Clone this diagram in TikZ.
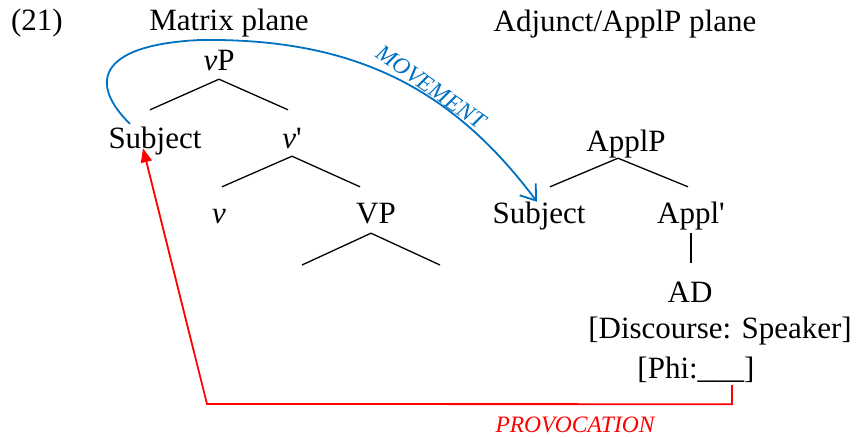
\documentclass[tikz,border=0pt]{standalone}
\usepackage{fontspec}
\setmainfont{Liberation Serif}
\usetikzlibrary{arrows.meta}
\definecolor{mvblue}{RGB}{0,112,192}
\tikzset{
  lbl/.style={inner sep=0pt, anchor=base, font=\fontsize{31}{36}\selectfont, text height=21pt, text depth=7pt},
  branch/.style={line width=1.3pt},
  movearrow/.style={draw=mvblue, line width=1.8pt, -{Straight Barb[length=14pt,width=20pt]}},
  provarrow/.style={draw=red, line width=1.8pt, -{Triangle[length=14pt,width=11pt]}},
  tag/.style={inner sep=0pt, font=\fontsize{23.5}{28}\selectfont\itshape}
}

\begin{document}
\begin{tikzpicture}[x=1pt,y=-1pt]
          \useasboundingbox (0,0) rectangle (859,437);%
          \node[lbl] (ex) at (37,30) {(21)};%
          \node[lbl] (mat) at (229,30) {Matrix plane};%
          \node[lbl] (adj) at (625,31) {Adjunct/ApplP plane};%

          \node[lbl] (vP) at (219,70) {\textit{v}P};%
          \node[lbl] (sL) at (155,148) {Subject};%
          \node[lbl] (vbar) at (292,148) {\textit{v}\textquotesingle};%
          \node[lbl] (v) at (219,223) {\textit{v}};%
          \node[lbl] (VP) at (376,223) {VP};%
          \coordinate (vpL) at (302,265);%
          \coordinate (vpR) at (440,265);%

          \node[lbl] (ApplP) at (626,151) {ApplP};%
          \node[lbl] (sR) at (539,223) {Subject};%
          \node[lbl] (Applbar) at (691,223) {Appl\textquotesingle};%
          \node[lbl] (AD) at (690,302) {AD};%
          \node[lbl] (disc) at (720,338) {[Discourse: Speaker]};%
          \node[lbl] (phi) at (696,378) {[Phi:\_\_\_]};%

          \draw[branch] ([yshift=-2pt]vP.south) -- ([shift={(-5pt,17pt)}]sL.north);%
          \draw[branch] ([yshift=-2pt]vP.south) -- ([shift={(-4pt,17pt)}]vbar.north);%
          \draw[branch] ([yshift=-1pt]vbar.south) -- ([shift={(3pt,15pt)}]v.north);%
          \draw[branch] ([yshift=-1pt]vbar.south) -- ([shift={(-16pt,15pt)}]VP.north);%
          \draw[branch] ([shift={(-5pt,-3pt)}]VP.south) -- (vpL);%
          \draw[branch] ([shift={(-5pt,-3pt)}]VP.south) -- (vpR);%
          \draw[branch] ([shift={(-8pt,0pt)}]ApplP.south) -- ([shift={(11pt,15pt)}]sR.north);%
          \draw[branch] ([shift={(-8pt,0pt)}]ApplP.south) -- ([shift={(-3pt,15pt)}]Applbar.north);%
          \draw[branch] ([yshift=-3pt]Applbar.south) -- ([shift={(1pt,18pt)}]AD.north);%

          \draw[movearrow] ([shift={(-25pt,3pt)}]sL.north) .. controls (90,85) and (95,45) .. (200,40)
                .. controls (350,38) and (450,85) .. ([xshift=-2pt]sR.north);%
          \node[tag, text=mvblue, rotate=-35] (mv) at (431,87) {MOVEMENT};%

          \draw[provarrow] ([xshift=36pt]phi.south) -- ++(0,19) -- (207,404) -- ([shift={(-12pt,7pt)}]sL.south);%
          \node[tag, text=red, anchor=base] (prov) at (575,432) {PROVOCATION};%
\end{tikzpicture}
\end{document}
